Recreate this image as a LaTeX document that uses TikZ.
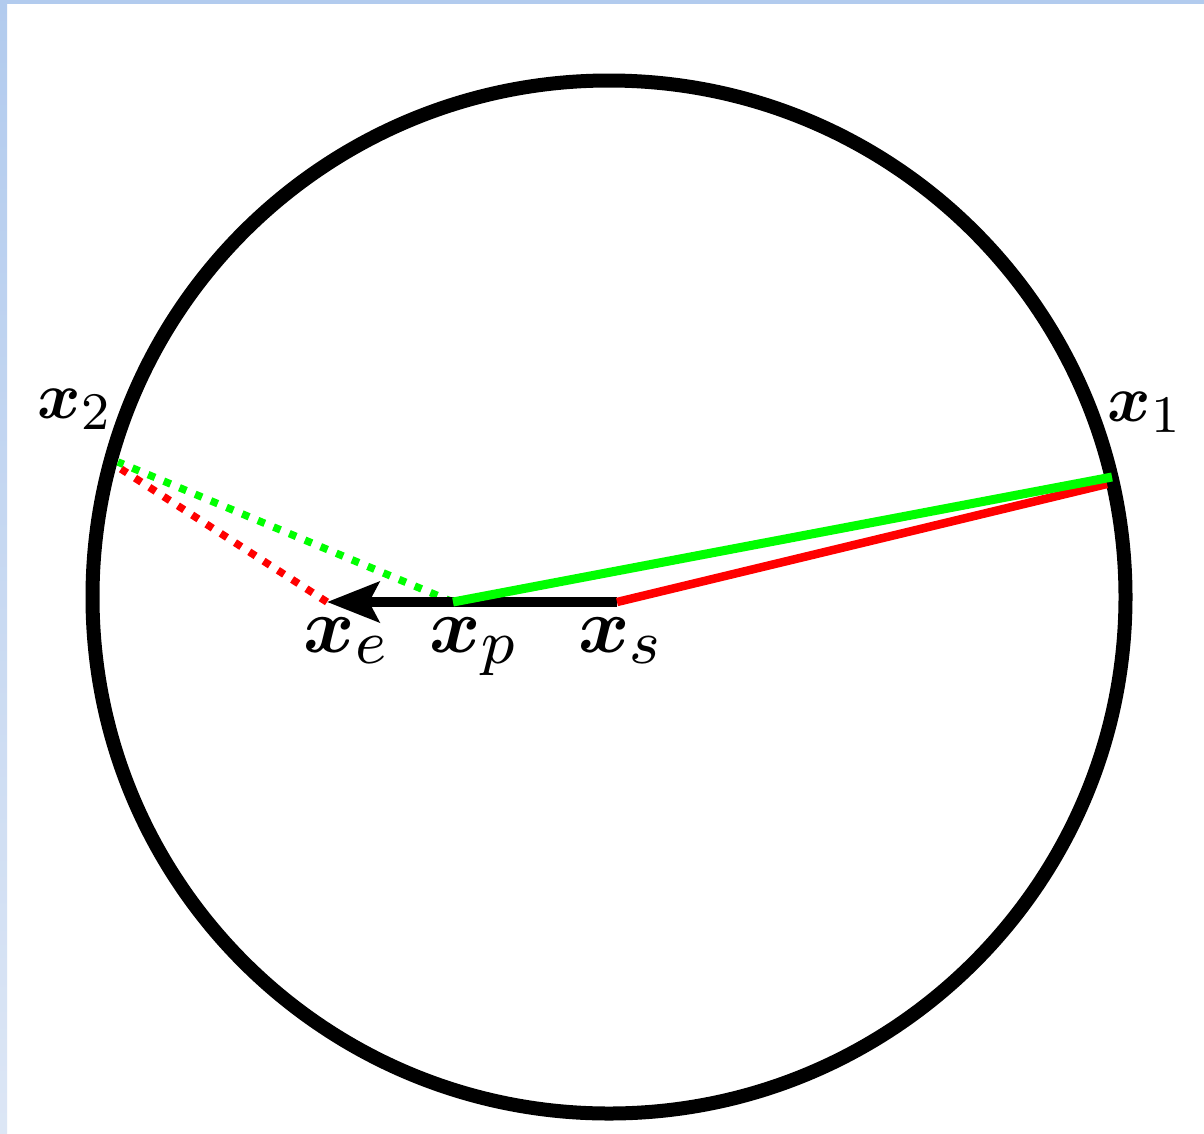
\documentclass[tikz,border=0pt]{standalone}
\usepackage{amsmath,bm}
\usetikzlibrary{arrows.meta}
\DeclareMathSizes{10}{10}{8}{6}
\definecolor{frameblue}{RGB}{178,203,238}
\definecolor{framelight}{RGB}{220,230,245}
\definecolor{pgreen}{RGB}{0,255,0}
\definecolor{pred}{RGB}{255,0,0}
\tikzset{
  lblbig/.style={inner sep=0pt, anchor=base, scale=7.8, font=\fontsize{10}{12}\selectfont},
  lbltop/.style={inner sep=0pt, anchor=base, scale=6.6, font=\fontsize{10}{12}\selectfont},
  ring/.style={line width=14pt, draw=black},
  solidgreen/.style={line width=9pt, draw=pgreen},
  solidred/.style={line width=8.5pt, draw=pred},
  dotgreen/.style={line width=7.5pt, draw=pgreen, dash pattern=on 7.5pt off 9.5pt},
  dotred/.style={line width=7.5pt, draw=pred, dash pattern=on 7.5pt off 9.5pt},
  moveline/.style={line width=10pt, draw=black, -{Stealth[length=52pt,width=40pt,inset=10pt]}}
}
\begin{document}
\begin{tikzpicture}[x=1pt,y=-1pt]
\useasboundingbox (0,0) rectangle (1204,1133);
\fill[white] (0,0) rectangle (1204,1133);
\shade[top color=frameblue, bottom color=framelight] (0,0) rectangle (7,1133);
\fill[frameblue] (0,0) rectangle (1204,4);

\coordinate (O) at (609,597);
\coordinate (x1) at (1112,477);
\coordinate (x1r) at (1107,484);
\coordinate (x2) at (118,462);
\coordinate (x2r) at (121,469);
\coordinate (xe) at (327,602);
\coordinate (xp) at (453,602);
\coordinate (xs) at (617,602);

\draw[ring] (O) circle[radius=516.5];

\draw[dotred] (xe) -- (x2r);
\draw[dotgreen] (xp) -- (x2);
\draw[moveline] (xs) -- (xe);
\draw[solidred] (xs) -- (x1r);
\draw[solidgreen] (xp) -- (x1);

\node[lblbig] (le) at (347,652) {$\bm{x}_e$};
\node[lblbig] (lp) at (474,652) {$\bm{x}_p$};
\node[lblbig] (ls) at (621,652) {$\bm{x}_s$};
\node[lbltop] (l2) at (75,418) {$\bm{x}_2$};
\node[lbltop] (l1) at (1145,421) {$\bm{x}_1$};
\end{tikzpicture}
\end{document}
